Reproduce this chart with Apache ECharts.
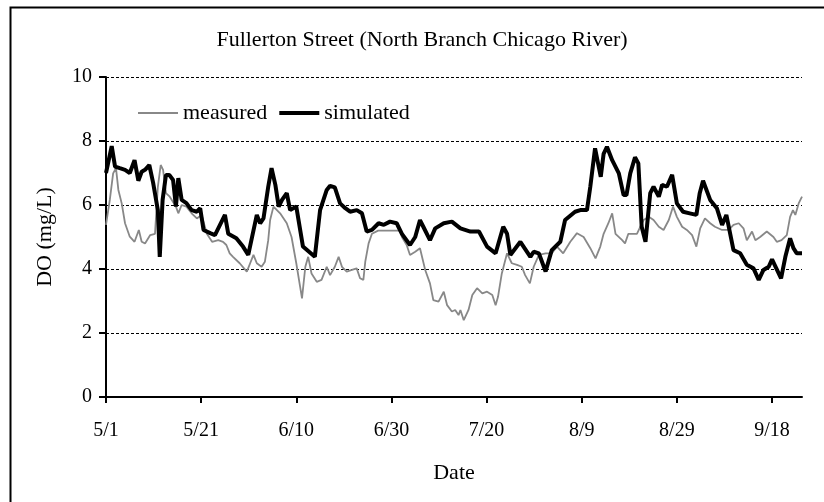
<!DOCTYPE html>
<html>
<head>
<meta charset="utf-8">
<script src="https://cdn.jsdelivr.net/npm/echarts@6/dist/echarts.min.js"></script>
<style>
  html, body { margin: 0; padding: 0; background: #fff; }
  #chart { width: 824px; height: 502px; }
</style>
</head>
<body>
<div id="chart"></div>
<script>
// days counted from 5/1
const tickDays = [0, 20, 40, 60, 80, 100, 120, 140];
const tickLabels = ['5/1', '5/21', '6/10', '6/30', '7/20', '8/9', '8/29', '9/18'];

const measuredDays = [0, 0.8, 1.5, 2.1, 2.6, 3.3, 4.0, 5.0, 6.0, 6.9, 7.5, 8.2, 9.3, 10.3, 10.9, 11.5, 12.0, 12.6, 13.4, 14.7,
  15.2, 15.9, 16.9, 18.0, 19.1, 20.1, 21.2, 22.3, 23.6, 24.6, 25.3, 26.0, 26.7, 28.1, 29.6, 30.3, 31.0, 31.7, 32.7, 33.4,
  34.1, 34.5, 35.2, 36.6, 38.0, 39.0, 40.0, 40.8, 41.2, 41.9, 42.5, 43.2, 44.3, 45.3, 46.4, 47.1, 48.1, 48.9, 49.6, 50.6,
  51.7, 52.7, 53.4, 54.1, 54.5, 55.2, 55.9, 57.2, 61.8, 62.2, 63.2, 63.9, 65.0, 66.0, 67.1, 68.1, 68.8, 69.9, 71.0, 71.7,
  72.7, 73.4, 74.1, 74.5, 75.2, 76.2, 77.0, 78.0, 79.1, 80.1, 81.2, 81.9, 82.4, 83.2, 84.3, 85.3, 86.4, 87.4, 88.1, 89.1,
  89.9, 91.0, 92.4, 93.7, 94.8, 96.1, 97.6, 99.0, 100.4, 101.8, 102.9, 103.9, 104.6, 105.6, 106.4, 107.1, 108.5, 109.1, 109.8, 111.6,
  112.3, 113.0, 114.1, 115.1, 116.2, 117.2, 118.3, 119.2, 120.0, 121.1, 122.1, 123.2, 124.1, 124.9, 125.9, 127.0, 128.0, 129.5, 130.9, 131.9,
  133.0, 134.0, 134.7, 135.8, 136.5, 137.5, 138.9, 140.3, 141.0, 142.0, 143.1, 143.8, 144.4, 144.9, 145.6, 146.3];
const measuredDO = [5.38, 6.16, 6.99, 7.15, 6.47, 6.05, 5.43, 5.01, 4.85, 5.22, 4.85, 4.8, 5.06, 5.1, 6.57, 7.25, 7.1, 6.37, 6.26, 5.95,
  5.74, 6.0, 5.95, 5.74, 5.58, 5.69, 5.1, 4.85, 4.9, 4.85, 4.75, 4.49, 4.38, 4.18, 3.92, 4.18, 4.44, 4.18, 4.07, 4.23,
  4.9, 5.53, 5.95, 5.74, 5.43, 5.0, 4.18, 3.45, 3.08, 4.07, 4.38, 3.86, 3.6, 3.66, 4.07, 3.81, 4.07, 4.38, 4.07, 3.92,
  3.97, 4.02, 3.71, 3.66, 4.23, 4.8, 5.1, 5.2, 5.2, 5.0, 4.75, 4.44, 4.54, 4.65, 3.97, 3.55, 3.03, 2.98, 3.29, 2.87,
  2.67, 2.72, 2.56, 2.72, 2.4, 2.72, 3.19, 3.4, 3.24, 3.29, 3.19, 2.87, 3.13, 3.86, 4.49, 4.18, 4.13, 4.07, 3.81, 3.55,
  4.07, 4.44, 4.49, 4.49, 4.7, 4.49, 4.85, 5.12, 5.0, 4.65, 4.33, 4.7, 5.1, 5.43, 5.74, 5.1, 4.9, 4.8, 5.1, 5.1,
  5.32, 5.53, 5.63, 5.53, 5.32, 5.22, 5.53, 5.95, 5.63, 5.32, 5.22, 5.06, 4.7, 5.27, 5.58, 5.43, 5.32, 5.22, 5.22, 5.38,
  5.43, 5.27, 4.9, 5.17, 4.9, 5.0, 5.17, 5.0, 4.85, 4.9, 5.06, 5.63, 5.84, 5.69, 6.05, 6.26];

const simulatedDays = [0, 1.2, 1.9, 2.9, 4.0, 5.0, 6.0, 6.8, 7.5, 8.2, 9.1, 9.9, 10.9, 11.3, 11.9, 12.6, 13.3, 14.1, 14.7, 15.2,
  15.9, 16.9, 18.0, 19.1, 19.8, 20.5, 21.9, 22.9, 25.0, 25.7, 27.4, 28.8, 29.9, 31.7, 32.4, 33.1, 34.1, 34.8, 35.6, 36.3,
  37.0, 38.0, 38.7, 40.0, 41.4, 43.9, 44.3, 45.0, 46.4, 47.1, 48.1, 49.2, 50.3, 51.3, 52.7, 53.8, 54.8, 55.9, 57.3, 58.4,
  59.7, 61.1, 62.2, 63.9, 65.0, 66.0, 66.7, 68.1, 69.2, 71.0, 72.7, 74.5, 76.6, 78.4, 80.1, 81.9, 83.5, 84.3, 85.0, 87.1,
  89.2, 89.9, 91.0, 92.4, 93.7, 95.5, 96.5, 98.6, 99.7, 101.1, 101.8, 102.8, 104.0, 104.6, 105.3, 106.4, 107.8, 108.8, 109.4, 110.2,
  111.2, 111.9, 112.6, 113.4, 114.4, 115.1, 116.2, 116.9, 117.9, 119.0, 120.0, 121.3, 122.7, 124.1, 124.8, 125.5, 127.0, 128.4, 129.5, 130.4,
  131.9, 133.3, 134.7, 136.1, 137.2, 138.2, 139.3, 140.0, 140.9, 141.9, 142.8, 143.8, 144.5, 145.2, 146.3];
const simulatedDO = [7.0, 7.84, 7.2, 7.15, 7.1, 7.0, 7.4, 6.76, 7.04, 7.1, 7.25, 6.7, 5.84, 4.38, 6.16, 6.94, 6.94, 6.78, 5.95, 6.84,
  6.16, 6.06, 5.84, 5.79, 5.9, 5.22, 5.12, 5.06, 5.69, 5.1, 4.96, 4.7, 4.44, 5.69, 5.43, 5.58, 6.57, 7.15, 6.63, 5.95,
  6.16, 6.37, 5.84, 5.95, 4.7, 4.38, 4.33, 5.84, 6.47, 6.6, 6.55, 6.05, 5.9, 5.79, 5.84, 5.74, 5.17, 5.22, 5.43, 5.38,
  5.48, 5.43, 5.1, 4.75, 5.0, 5.53, 5.32, 4.9, 5.27, 5.43, 5.48, 5.27, 5.17, 5.17, 4.7, 4.49, 5.32, 5.1, 4.44, 4.85,
  4.38, 4.54, 4.49, 3.92, 4.59, 4.85, 5.53, 5.79, 5.84, 5.84, 6.57, 7.77, 6.88, 7.6, 7.82, 7.4, 6.99, 6.31, 6.31, 6.99,
  7.49, 7.3, 5.32, 4.85, 6.37, 6.57, 6.26, 6.63, 6.57, 6.94, 6.05, 5.79, 5.74, 5.69, 6.37, 6.76, 6.16, 5.9, 5.38, 5.69,
  4.59, 4.49, 4.13, 4.02, 3.66, 3.97, 4.07, 4.3, 4.02, 3.71, 4.38, 4.96, 4.65, 4.49, 4.49];

const serif = '"Liberation Serif", "Times New Roman", serif';
const zip = (xs, ys) => xs.map((x, i) => [x, ys[i]]);

const chart = echarts.init(document.getElementById('chart'), null, { renderer: 'canvas' });
chart.setOption({
  backgroundColor: '#fff',
  animation: false,
  textStyle: { fontFamily: serif, color: '#000' },
  title: {
    text: 'Fullerton Street (North Branch Chicago River)',
    left: 417, top: 24, textAlign: 'center',
    textStyle: { fontFamily: serif, fontSize: 22, fontWeight: 'normal', color: '#000' }
  },
  graphic: [{
    type: 'rect', left: 8, top: 5, silent: true,
    shape: { width: 900, height: 600 },
    style: { fill: 'none', stroke: '#000', lineWidth: 2 }
  }],
  legend: {
    left: 133, top: 97,
    itemWidth: 40, itemHeight: 14, itemGap: 12,
    itemStyle: { borderWidth: 0 },
    textStyle: { fontFamily: serif, fontSize: 22, color: '#000' },
    data: [
      { name: 'measured', icon: 'path://M0,0M40,14M0,6.1H40V7.9H0Z', itemStyle: { color: '#888', borderWidth: 0 } },
      { name: 'simulated', icon: 'path://M0,0M40,14M0,5H40V9H0Z', itemStyle: { color: '#000', borderWidth: 0 } }
    ]
  },
  grid: { left: 106, right: 22, top: 77, bottom: 105 },
  xAxis: {
    type: 'value', min: 0, max: 146.3, interval: 20,
    name: 'Date', nameLocation: 'middle', nameGap: 65,
    nameTextStyle: { fontFamily: serif, fontSize: 22, color: '#000' },
    axisLine: { lineStyle: { color: '#000', width: 2 } },
    axisTick: { customValues: tickDays, length: 6, lineStyle: { color: '#000', width: 2 } },
    axisLabel: {
      customValues: tickDays, margin: 24,
      fontFamily: serif, fontSize: 20, color: '#000',
      formatter: v => tickLabels[tickDays.indexOf(v)] || ''
    },
    splitLine: { show: false }
  },
  yAxis: {
    type: 'value', min: 0, max: 10, interval: 2,
    name: 'DO (mg/L)', nameLocation: 'middle', nameGap: 50,
    nameTextStyle: { fontFamily: serif, fontSize: 22, color: '#000' },
    axisLine: { show: true, lineStyle: { color: '#000', width: 2 } },
    axisTick: { show: true, length: 7, lineStyle: { color: '#000', width: 2 } },
    axisLabel: { margin: 14, fontFamily: serif, fontSize: 20, color: '#000' },
    splitLine: { lineStyle: { color: '#000', width: 1, type: [3, 2] } }
  },
  series: [
    {
      name: 'measured', type: 'line', symbol: 'none',
      data: zip(measuredDays, measuredDO),
      lineStyle: { color: '#888', width: 1.8 },
      itemStyle: { color: '#888' }
    },
    {
      name: 'simulated', type: 'line', symbol: 'none',
      data: zip(simulatedDays, simulatedDO),
      lineStyle: { color: '#000', width: 4 },
      itemStyle: { color: '#000' }
    }
  ]
});
</script>
</body>
</html>
